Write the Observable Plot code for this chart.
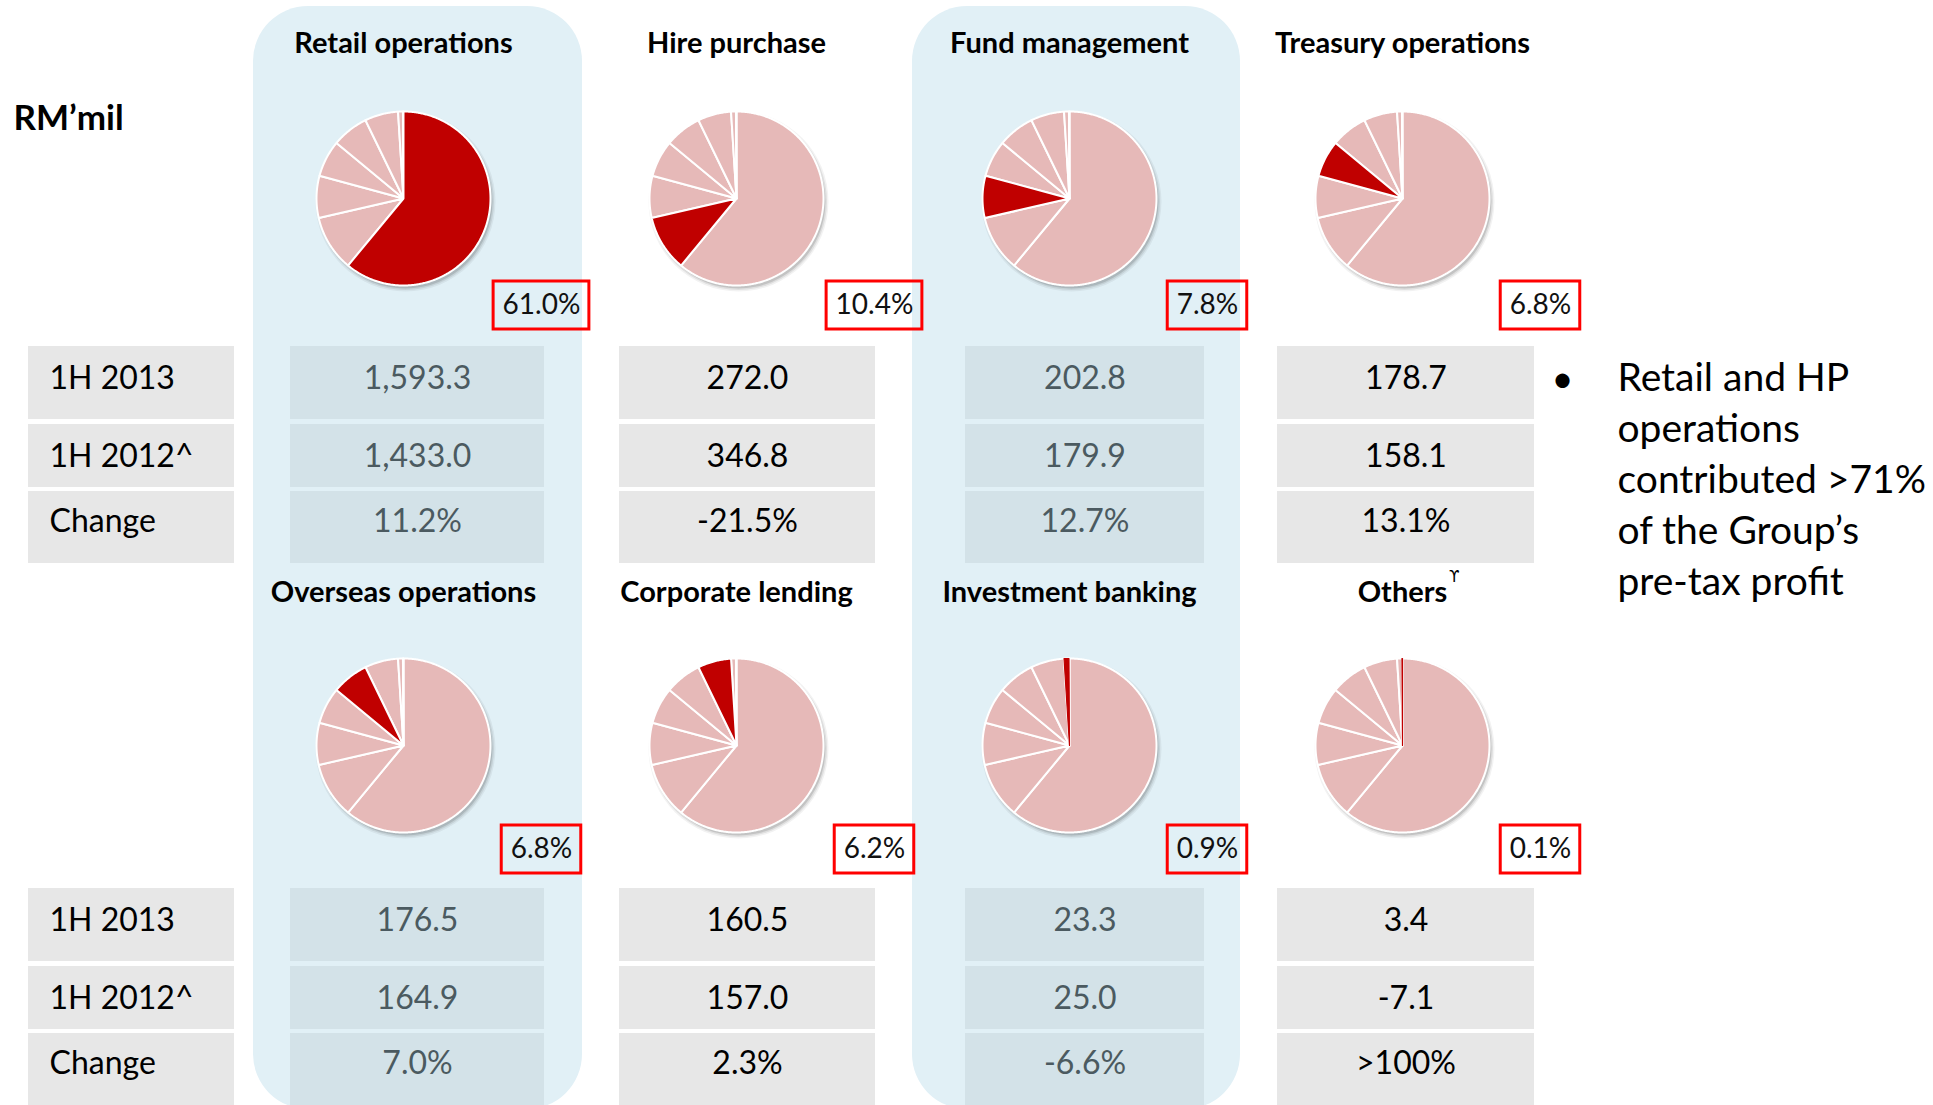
<!DOCTYPE html>
<html>
<head>
<meta charset="utf-8">
<script src="https://cdn.jsdelivr.net/npm/d3@7"></script>
<script src="https://cdn.jsdelivr.net/npm/@observablehq/plot@0.6"></script>
<style>
  html, body { margin: 0; padding: 0; background: #ffffff; }
  #chart { width: 1933px; height: 1105px; overflow: hidden; }
</style>
</head>
<body>
<div id="chart"></div>
<script>
// ---------------- DATA ----------------
const segments = ["Retail operations", "Hire purchase", "Fund management", "Treasury operations",
                  "Overseas operations", "Corporate lending", "Investment banking", "Others"];
const shares = [61.0, 10.4, 7.8, 6.8, 6.8, 6.2, 0.9, 0.1];           // % of group pre-tax profit
const shareLabels = ["61.0%", "10.4%", "7.8%", "6.8%", "6.8%", "6.2%", "0.9%", "0.1%"];
const pbt1H2013 = ["1,593.3", "272.0", "202.8", "178.7", "176.5", "160.5", "23.3", "3.4"];
const pbt1H2012 = ["1,433.0", "346.8", "179.9", "158.1", "164.9", "157.0", "25.0", "-7.1"];
const changes   = ["11.2%", "-21.5%", "12.7%", "13.1%", "7.0%", "2.3%", "-6.6%", ">100%"];
const rowLabels = ["1H 2013", "1H 2012^", "Change"];
const unitLabel = "RM’mil";
const othersMark = "ϒ";
const bulletLines = ["Retail and HP", "operations", "contributed >71%", "of the Group’s", "pre-tax profit"];
const shadedColumns = [0, 2];

// ---------------- LAYOUT ----------------
const W = 1933, H = 1105;
const FONT = "Lato, 'Open Sans', sans-serif";
const colX = [403, 736, 1069, 1402];
const titleY = [43, 592];
const pieY = [198, 745];
const pieR = 87;
const boxY = [[281, 329], [825, 873]];
const boxDx = 138;
const tableDy = [0, 542];
const rowsY = [[346, 419], [424, 487], [491, 563]];
const rowTextY = [378, 456, 521.5];
const labelCellX = [28, 234];
const valueCellX = [[290, 544], [619, 875], [965, 1204], [1277, 1534]];
const panelX = {0: [253, 582], 2: [912, 1240]};
const panelY = [6, 1109];

const C = {
  panel: "#e1f0f6", cellShaded: "#d3e2e8", cell: "#e7e7e7",
  hl: "#c00000", slice: "#e6b9b8", box: "#ff0000",
  txtShaded: "#4b5a60", txt: "#000000"
};

const ctx = document.createElement("canvas").getContext("2d");
function textWidth(t, font) { ctx.font = font; return ctx.measureText(t).width; }

// ---------------- DERIVED TABLES ----------------
const panels = shadedColumns.map(c => ({x1: panelX[c][0], x2: panelX[c][1], y1: panelY[0], y2: panelY[1]}));

const cellsShaded = [], cellsPlain = [], textsShaded = [], textsPlain = [];
segments.forEach((name, p) => {
  const col = p % 4, block = Math.floor(p / 4);
  const shaded = shadedColumns.includes(col);
  const vals = [pbt1H2013[p], pbt1H2012[p], changes[p]];
  vals.forEach((v, r) => {
    const cell = {x1: valueCellX[col][0], x2: valueCellX[col][1],
                  y1: rowsY[r][0] + tableDy[block], y2: rowsY[r][1] + tableDy[block] + (block === 1 && r === 2 ? 20 : 0)};
    const txt = {x: (valueCellX[col][0] + valueCellX[col][1]) / 2, y: rowTextY[r] + tableDy[block], text: v};
    (shaded ? cellsShaded : cellsPlain).push(cell);
    (shaded ? textsShaded : textsPlain).push(txt);
  });
});
const labelCells = [], labelTexts = [];
[0, 1].forEach(block => rowLabels.forEach((l, r) => {
  labelCells.push({x1: labelCellX[0], x2: labelCellX[1],
                   y1: rowsY[r][0] + tableDy[block], y2: rowsY[r][1] + tableDy[block] + (block === 1 && r === 2 ? 20 : 0)});
  labelTexts.push({x: 49, y: rowTextY[r] + tableDy[block], text: l});
}));

const titles = segments.map((name, p) => ({x: colX[p % 4], y: titleY[Math.floor(p / 4)], text: name}));

const boxFont = "28px Lato";
const boxes = shareLabels.map((t, p) => {
  const cx = colX[p % 4] + boxDx, w = textWidth(t, boxFont) + 18;
  const yy = boxY[Math.floor(p / 4)];
  return {x1: cx - w / 2, x2: cx + w / 2, y1: yy[0], y2: yy[1], cx, cy: (yy[0] + yy[1]) / 2, text: t};
});

// pie slice polygons computed from the shares
const total = d3.sum(shares);
const pieRows = [];
const pieCenters = [];
segments.forEach((name, p) => {
  const cx = colX[p % 4], cy = pieY[Math.floor(p / 4)];
  pieCenters.push({x: cx, y: cy});
  let cum = 0;
  shares.forEach((v, s) => {
    const a0 = cum / total * 2 * Math.PI; cum += v;
    const a1 = cum / total * 2 * Math.PI;
    const n = Math.max(2, Math.ceil((a1 - a0) / 0.01));
    const key = p + ":" + s, hl = s === p;
    pieRows.push({key, x: cx, y: cy, hl, share: v});
    for (let k = 0; k <= n; k++) {
      const a = a0 + (a1 - a0) * k / n;
      pieRows.push({key, x: cx + pieR * Math.sin(a), y: cy - pieR * Math.cos(a), hl, share: v});
    }
  });
});
const pieBase = pieRows.filter(d => !d.hl);
const pieHl = pieRows.filter(d => d.hl);

const othersW = textWidth("Others", "bold 29px Lato");

// ---------------- PLOT ----------------
const chart = Plot.plot({
  width: W, height: H, margin: 0,
  x: {domain: [0, W], range: [0, W], axis: null},
  y: {domain: [0, H], range: [0, H], axis: null},
  style: {background: "#ffffff"},
  marks: [
    Plot.rect(panels, {x1: "x1", x2: "x2", y1: "y1", y2: "y2", fill: C.panel, rx: 55}),
    Plot.rect(labelCells, {x1: "x1", x2: "x2", y1: "y1", y2: "y2", fill: C.cell}),
    Plot.rect(cellsPlain, {x1: "x1", x2: "x2", y1: "y1", y2: "y2", fill: C.cell}),
    Plot.rect(cellsShaded, {x1: "x1", x2: "x2", y1: "y1", y2: "y2", fill: C.cellShaded}),
    // soft shadow beneath each pie
    Plot.dot(pieCenters, {x: "x", y: "y", dx: 2, dy: 3, r: pieR + 3, fill: "#000", fillOpacity: 0.05, stroke: "none"}),
    Plot.dot(pieCenters, {x: "x", y: "y", dx: 2, dy: 3, r: pieR + 1.5, fill: "#000", fillOpacity: 0.08, stroke: "none"}),
    Plot.dot(pieCenters, {x: "x", y: "y", dx: 2, dy: 3, r: pieR, fill: "#000", fillOpacity: 0.12, stroke: "none"}),
    Plot.line(pieBase, {x: "x", y: "y", z: "key", fill: C.slice, stroke: "#ffffff", strokeWidth: 2,
                        strokeLinejoin: "round", curve: "linear-closed"}),
    Plot.line(pieHl, {x: "x", y: "y", z: "key", fill: C.hl, stroke: "#ffffff", strokeWidth: 2,
                      strokeLinejoin: "round", curve: "linear-closed"}),
    Plot.line(pieHl.filter(d => d.share < 2), {x: "x", y: "y", z: "key", fill: C.hl, stroke: C.hl,
                      strokeWidth: 1.2, curve: "linear-closed"}),
    Plot.rect(boxes, {x1: "x1", x2: "x2", y1: "y1", y2: "y2", fill: "none", stroke: C.box, strokeWidth: 3}),
    Plot.text(boxes, {x: "cx", y: "cy", text: "text", fontFamily: FONT, fontSize: 28, fill: "#111"}),
    Plot.text(titles, {x: "x", y: "y", text: "text", fontFamily: FONT, fontSize: 29, fontWeight: "bold", fill: "#000"}),
    Plot.text([othersMark], {x: colX[3] + othersW / 2 + 7, y: titleY[1] - 15, text: d => d,
                             fontFamily: "'DejaVu Sans', sans-serif", fontSize: 15, fill: "#000"}),
    Plot.text(labelTexts, {x: "x", y: "y", text: "text", textAnchor: "start", fontFamily: FONT, fontSize: 32, fill: C.txt}),
    Plot.text(textsPlain, {x: "x", y: "y", text: "text", fontFamily: FONT, fontSize: 32, fill: C.txt}),
    Plot.text(textsShaded, {x: "x", y: "y", text: "text", fontFamily: FONT, fontSize: 32, fill: C.txtShaded}),
    Plot.text([unitLabel], {x: 13, y: 118, text: d => d, textAnchor: "start", fontFamily: FONT, fontSize: 35,
                            fontWeight: "bold", fill: "#000"}),
    Plot.text(["•"], {x: 1562, y: 379, text: d => d, fontFamily: FONT, fontSize: 38, fill: "#000"}),
    Plot.text(bulletLines, {x: 1617, y: (d, i) => 378 + i * 51, text: d => d, textAnchor: "start",
                            fontFamily: FONT, fontSize: 39, fill: "#000"})
  ]
});
document.getElementById("chart").appendChild(chart);
</script>
</body>
</html>
